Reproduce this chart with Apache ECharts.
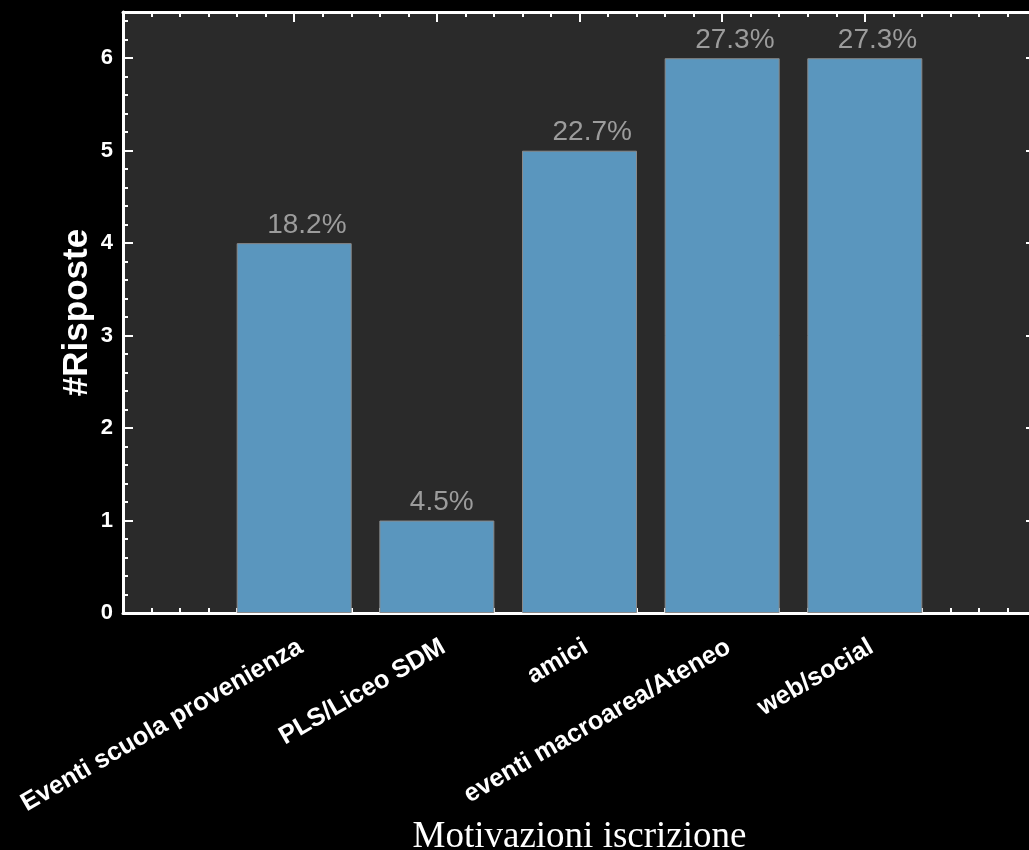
<!DOCTYPE html>
<html>
<head>
<meta charset="utf-8">
<script src="https://cdn.jsdelivr.net/npm/echarts@6/dist/echarts.min.js"></script>
<style>
html,body{margin:0;padding:0;background:#000;}
#chart{width:1029px;height:850px;}
</style>
</head>
<body>
<div id="chart"></div>
<script>
var categories = ['Eventi scuola provenienza', 'PLS/Liceo SDM', 'amici', 'eventi macroarea/Ateneo', 'web/social'];
var values = [4, 1, 5, 6, 6];
var pctLabels = ['18.2%', '4.5%', '22.7%', '27.3%', '27.3%'];
var yTicks = [0, 1, 2, 3, 4, 5, 6];
var xTicks = [1, 2, 3, 4, 5];

var chart = echarts.init(document.getElementById('chart'), null, {renderer: 'canvas'});
var sans = 'Liberation Sans';
var axLine = {show: true, onZero: false, lineStyle: {color: '#fff', width: 3}};
function xMajor(pos, labels) {
  return {
    type: 'value', position: pos, min: -0.2, max: 6.2, interval: 1,
    axisLine: axLine,
    axisTick: {show: true, inside: true, length: 10, customValues: xTicks, lineStyle: {color: '#fff', width: 2}},
    axisLabel: labels ? {
      show: true, customValues: xTicks, rotate: 30, margin: 21, verticalAlign: 'top',
      color: '#fff', fontWeight: 'bold', fontSize: 25.5, fontFamily: sans,
      formatter: function (v) { return categories[Math.round(v) - 1] || ''; }
    } : {show: false},
    splitLine: {show: false}
  };
}
function xMinor(pos) {
  return {
    type: 'value', position: pos, min: -0.2, max: 6.2, interval: 0.2,
    axisLine: {show: false, onZero: false},
    axisTick: {show: true, inside: true, length: 5, lineStyle: {color: '#fff', width: 2}},
    axisLabel: {show: false}, splitLine: {show: false}
  };
}
function yMajor(pos, labels) {
  return {
    type: 'value', position: pos, min: 0, max: 6.5, interval: 1,
    axisLine: axLine,
    axisTick: {show: true, inside: true, length: 10, customValues: yTicks, lineStyle: {color: '#fff', width: 2}},
    axisLabel: labels ? {
      show: true, customValues: yTicks, margin: 10,
      color: '#fff', fontWeight: 'bold', fontSize: 22, fontFamily: sans
    } : {show: false},
    splitLine: {show: false}
  };
}
function yMinor(pos) {
  return {
    type: 'value', position: pos, min: 0, max: 6.5, interval: 0.2,
    axisLine: {show: false, onZero: false},
    axisTick: {show: true, inside: true, length: 5, lineStyle: {color: '#fff', width: 2}},
    axisLabel: {show: false}, splitLine: {show: false}
  };
}

var xb = xMajor('bottom', true);
xb.name = 'Motivazioni iscrizione';
xb.nameLocation = 'middle';
xb.nameGap = 206;
xb.nameMoveOverlap = false;
xb.nameTextStyle = {color: '#fff', fontSize: 37, fontFamily: 'Liberation Serif'};

var yl = yMajor('left', true);
yl.name = '#Risposte';
yl.nameLocation = 'middle';
yl.nameGap = 28;
yl.nameMoveOverlap = false;
yl.nameTextStyle = {color: '#fff', fontSize: 35, fontWeight: 'bold', fontFamily: sans};

var option = {
  backgroundColor: '#000',
  animation: false,
  grid: {left: 123, top: 12, width: 913, height: 601, show: true, backgroundColor: '#2a2a2a', borderWidth: 0,
         containLabel: false, outerBoundsMode: 'none'},
  xAxis: [xb, xMinor('bottom'), xMajor('top', false), xMinor('top')],
  yAxis: [yl, yMinor('left'), yMajor('right', false), yMinor('right')],
  series: [{
    type: 'bar',
    xAxisIndex: 0, yAxisIndex: 0,
    barWidth: 115,
    data: categories.map(function (c, i) { return [i + 1, values[i]]; }),
    itemStyle: {color: '#5a96be', borderColor: '#8a8a8a', borderWidth: 1},
    label: {
      show: true, position: 'top', distance: 4, align: 'left', offset: [-27, 0],
      color: '#9c9c9c', fontSize: 28, fontFamily: sans,
      formatter: function (p) { return pctLabels[p.dataIndex]; }
    }
  }]
};
chart.setOption(option);
</script>
</body>
</html>
